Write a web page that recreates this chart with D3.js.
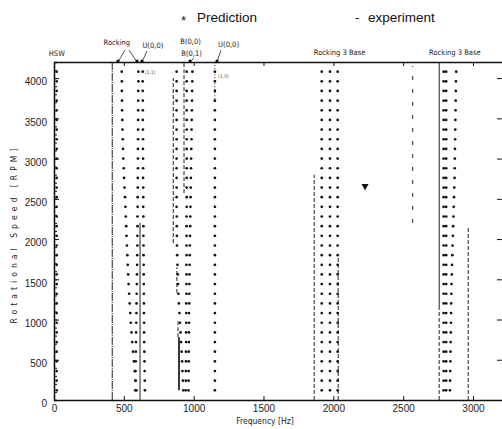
<!DOCTYPE html>
<html>
<head>
<meta charset="utf-8">
<script src="https://cdn.jsdelivr.net/npm/d3@7"></script>
<style>
    body { margin: 0; background: #fff; }
    svg { display: block; font-family: 'Liberation Sans Narrow', 'DejaVu Sans Condensed', 'Liberation Sans', sans-serif; }
</style>
</head>
<body>
<div id="chart"></div>
<script>
// rotor speeds where the prediction was evaluated (rpm)
const RPM = [120, 240, 360, 480, 600, 720, 840, 960, 1080, 1200, 1320, 1440, 1560, 1680, 1800, 1920, 2040,
    2160, 2280, 2400, 2520, 2640, 2760, 2880, 3000, 3120, 3240, 3360, 3480, 3600, 3720, 3840, 3960, 4080];

// predicted natural frequencies (Hz), one value per RPM entry
const PRED_HSW = [19, 19, 19, 19, 19, 19, 19, 19, 19, 19, 19, 19, 19, 19, 19, 19, 19,
    19, 19, 19, 19, 19, 19, 19, 19, 19, 19, 19, 19, 19, 19, 19, 19, 19];
const PRED_ROCKING = [590, 584, 578, 572, 566, 560, 555, 550, 546, 542, 538, 534, 531, 528, 525, 522, 519,
    517, 514, 511, 508, 505, 502, 499, 496, 494, 492, 490, 489, 488, 487, 486, 486, 485];
const PRED_U00_B = [582, 583, 584, 585, 586, 587, 588, 589, 590, 591, 592, 593, 594, 595, 596, 597, 597,
    598, 598, 599, 599, 600, 600, 601, 601, 601, 602, 602, 602, 603, 603, 603, 604, 604];
const PRED_U00_F = [651, 650, 649, 648, 647, 646, 645, 645, 644, 644, 643, 643, 642, 642, 641, 641, 640,
    640, 640, 639, 639, 639, 638, 638, 638, 637, 637, 637, 636, 636, 636, 635, 635, 635];
const PRED_B_A = [926, 923, 920, 917, 914, 910, 906, 902, 898, 894, 891, 888, 886, 884, 882, 881, 880,
    879, 879, 878, 878, 878, 878, 878, 878, 878, 878, 878, 878, 878, 878, 878, 878, 878];
const PRED_B_B = [943, 944, 944, 945, 945, 946, 946, 947, 947, 947, 948, 948, 948, 948, 949, 949, 949,
    949, 949, 950, 950, 950, 950, 950, 950, 950, 950, 950, 950, 950, 950, 950, 950, 950];
const PRED_B_C = [963, 964, 964, 965, 965, 966, 966, 967, 967, 968, 968, 969, 970, 971, 972, 973, 974,
    975, 976, 977, 978, 979, 980, 981, 982, 983, 984, 985, 986, 987, 988, 989, 990, 991];
const PRED_U00_R = [1152, 1152, 1152, 1152, 1152, 1152, 1152, 1152, 1152, 1152, 1152, 1152, 1152, 1152, 1152, 1152, 1152,
    1152, 1152, 1152, 1152, 1152, 1152, 1152, 1152, 1152, 1152, 1152, 1152, 1152, 1152, 1152, 1152, 1152];
const PRED_R3_A = [1917, 1917, 1917, 1917, 1917, 1917, 1917, 1917, 1917, 1917, 1917, 1917, 1917, 1917, 1917, 1917, 1917,
    1917, 1917, 1917, 1917, 1917, 1917, 1917, 1917, 1917, 1917, 1917, 1917, 1917, 1917, 1917, 1917, 1917];
const PRED_R3_B = [1976, 1976, 1976, 1976, 1976, 1976, 1976, 1976, 1976, 1976, 1976, 1976, 1976, 1976, 1976, 1976, 1976,
    1976, 1976, 1976, 1976, 1976, 1976, 1976, 1976, 1976, 1976, 1976, 1976, 1976, 1976, 1976, 1976, 1976];
const PRED_R3_C = [2031, 2031, 2031, 2031, 2031, 2031, 2031, 2031, 2031, 2031, 2031, 2031, 2031, 2031, 2031, 2031, 2031,
    2031, 2031, 2031, 2031, 2031, 2031, 2031, 2031, 2031, 2031, 2031, 2031, 2031, 2031, 2031, 2031, 2031];
const PRED_R3B_A = [2790, 2790, 2790, 2790, 2790, 2790, 2790, 2790, 2790, 2790, 2790, 2790, 2790, 2790, 2790, 2790, 2790,
    2790, 2790, 2790, 2790, 2790, 2790, 2790, 2790, 2790, 2790, 2790, 2790, 2790, 2790, 2790, 2790, 2790];
const PRED_R3B_B = [2808, 2808, 2808, 2808, 2808, 2808, 2808, 2808, 2808, 2808, 2808, 2808, 2808, 2808, 2808, 2808, 2808,
    2808, 2808, 2808, 2808, 2808, 2808, 2808, 2808, 2808, 2808, 2808, 2808, 2808, 2808, 2808, 2808, 2808];
const PRED_R3B_C = [2835, 2836, 2837, 2838, 2839, 2840, 2841, 2842, 2843, 2844, 2845, 2846, 2848, 2850, 2852, 2854, 2856,
    2858, 2860, 2862, 2864, 2866, 2868, 2869, 2870, 2871, 2872, 2873, 2874, 2875, 2876, 2877, 2878, 2880];

const PREDICTIONS = [PRED_HSW, PRED_ROCKING, PRED_U00_B, PRED_U00_F, PRED_B_A, PRED_B_B, PRED_B_C,
    PRED_U00_R, PRED_R3_A, PRED_R3_B, PRED_R3_C, PRED_R3B_A, PRED_R3B_B, PRED_R3B_C];

// measured (waterfall) traces: frequency, rpm range, trace kind
const EXP_FREQ = [417, 616, 854, 880, 888, 895, 931, 1152, 1863, 2035, 2568, 2758, 2758, 2966];
const EXP_FROM = [0, 0, 1950, 1330, 780, 120, 2570, 3700, 0, 0, 2200, 1120, 0, 0];
const EXP_TO = [4200, 2200, 4000, 1650, 1000, 780, 4200, 4200, 2800, 1800, 4150, 4200, 1120, 2140];
const EXP_KIND = ['dashdot', 'solid', 'dash', 'dash', 'dash', 'heavy', 'dash', 'dot', 'dash', 'dash', 'sparse', 'solid', 'dash', 'dash'];

// single stray measured point
const EXP_POINT = { freq: 2227, rpm: 2658 };

const X_TICKS = [0, 500, 1000, 1500, 2000, 2500, 3000];
const Y_TICKS = [0, 500, 1000, 1500, 2000, 2500, 3000, 3500, 4000];

const MODE_LABELS = ['HSW', 'Rocking', 'U(0,0)', 'B(0,0)', 'B(0,1)', 'U(0,0)', 'Rocking 3 Base', 'Rocking 3 Base'];
const MODE_LABEL_FREQ = [20, 450, 708, 978, 985, 1250, 2045, 2870];

const WIDTH = 502;
const HEIGHT = 429;
const PLOT = { TOP: 62, BOTTOM: 400, LEFT: 54, RIGHT: 504 };

const DASHES = { solid: null, heavy: null, dash: '4,2', dashdot: '8,1,1,1', dot: '1,2', sparse: '4,9' };

const svg = d3.select('#chart')
    .append('svg')
    .attr('width', WIDTH)
    .attr('height', HEIGHT);

const xScale = d3.scaleLinear().domain([0, 3222]).range([PLOT.LEFT, PLOT.RIGHT]);
const yScale = d3.scaleLinear().domain([0, 4200]).range([PLOT.BOTTOM, PLOT.TOP]);
const fmt = d3.format('d');

// axes, ticks point inward like the original plot
const axisStyle = (g) => {
    g.selectAll('.domain').attr('stroke', '#111').attr('stroke-width', 1.3);
    g.selectAll('.tick line').attr('stroke', '#111');
    g.selectAll('.tick text').attr('fill', '#222').attr('font-size', 10);
};

svg.append('g')
    .attr('transform', `translate(0, ${PLOT.BOTTOM})`)
    .call(d3.axisBottom(xScale).tickValues(X_TICKS).tickFormat(fmt).tickSizeInner(-4).tickSizeOuter(0).tickPadding(5))
    .call(axisStyle);

svg.append('g')
    .attr('transform', `translate(0, ${PLOT.TOP})`)
    .call(d3.axisTop(xScale).tickValues(X_TICKS).tickSizeInner(-4).tickSizeOuter(0).tickFormat(''))
    .call(axisStyle);

svg.append('g')
    .attr('transform', `translate(${PLOT.LEFT}, 0)`)
    .call(d3.axisLeft(yScale).tickValues(d3.range(0, 4201, 100)).tickSize(-3).tickFormat(''))
    .call(axisStyle);

svg.append('g')
    .attr('transform', `translate(${PLOT.LEFT}, 0)`)
    .call(d3.axisLeft(yScale).tickValues(Y_TICKS).tickFormat(fmt).tickSizeInner(-5).tickSizeOuter(0).tickPadding(7))
    .call(axisStyle)
    .selectAll('.tick text')
    .attr('dy', '0.68em');

svg.append('g')
    .attr('transform', `translate(${PLOT.RIGHT - 1}, 0)`)
    .call(d3.axisRight(yScale).tickValues(Y_TICKS.slice(1)).tickSizeInner(-6).tickSizeOuter(0).tickFormat(''))
    .call(axisStyle);

// experiment traces
svg.append('g')
    .selectAll('line')
    .data(EXP_FREQ.map((f, i) => ({ f, from: EXP_FROM[i], to: EXP_TO[i], kind: EXP_KIND[i] })))
    .join('line')
    .attr('x1', (d) => xScale(d.f))
    .attr('x2', (d) => xScale(d.f))
    .attr('y1', (d) => yScale(d.from))
    .attr('y2', (d) => yScale(d.to))
    .attr('stroke', '#222')
    .attr('stroke-width', (d) => (d.kind === 'heavy' ? 1.8 : 1))
    .attr('stroke-dasharray', (d) => DASHES[d.kind]);

svg.append('path')
    .attr('d', d3.symbol(d3.symbolTriangle, 22)())
    .attr('transform', `translate(${xScale(EXP_POINT.freq)}, ${yScale(EXP_POINT.rpm)}) rotate(180)`)
    .attr('fill', '#111');

// predicted points
const points = PREDICTIONS.flatMap((series) => series.map((f, i) => ({ f, rpm: RPM[i] })));
svg.append('g')
    .selectAll('circle')
    .data(points)
    .join('circle')
    .attr('cx', (d) => xScale(d.f))
    .attr('cy', (d) => yScale(d.rpm))
    .attr('r', 1.35)
    .attr('fill', '#111');

// mode labels above the frame
const labelY = [56, 45, 48, 44, 56, 47, 55, 55];
svg.append('g')
    .selectAll('text')
    .data(MODE_LABELS)
    .join('text')
    .attr('x', (d, i) => xScale(MODE_LABEL_FREQ[i]))
    .attr('y', (d, i) => labelY[i])
    .attr('text-anchor', 'middle')
    .attr('font-size', 7.5)
    .attr('fill', '#222')
    .text((d) => d);

const arrows = [
    [125, 50, 118, 62], [129, 50, 137, 62],
    [147, 51, 142, 62], [194, 58, 190, 62], [221, 50, 217, 62],
];
svg.append('g')
    .selectAll('line')
    .data(arrows)
    .join('line')
    .attr('x1', (d) => d[0]).attr('y1', (d) => d[1])
    .attr('x2', (d) => d[2]).attr('y2', (d) => d[3])
    .attr('stroke', '#222')
    .attr('stroke-width', 0.8);

svg.append('g')
    .selectAll('circle')
    .data(arrows)
    .join('circle')
    .attr('cx', (d) => d[2]).attr('cy', (d) => d[3] - 1)
    .attr('r', 1.6)
    .attr('fill', '#111');

// tiny mode numbers next to the columns
svg.append('text').attr('x', xScale(650)).attr('y', yScale(4050)).attr('font-size', 5).attr('fill', '#555').text('(1,1)');
svg.append('text').attr('x', xScale(1175)).attr('y', yScale(4000)).attr('font-size', 5).attr('fill', '#555').text('(1,0)');

// axis titles
svg.append('text')
    .attr('x', 265)
    .attr('y', 424)
    .attr('text-anchor', 'middle')
    .attr('font-size', 8.5)
    .attr('fill', '#222')
    .text('Frequency [Hz]');

svg.append('text')
    .attr('transform', 'translate(17, 236) rotate(-90)')
    .attr('text-anchor', 'middle')
    .attr('font-size', 8.5)
    .attr('fill', '#222')
    .attr('textLength', 175)
    .attr('lengthAdjust', 'spacing')
    .text('Rotational Speed [RPM]');

// legend
const legend = svg.append('g')
    .attr('font-family', "'Liberation Sans', Arial, sans-serif")
    .attr('font-size', 13.5)
    .attr('fill', '#111');
legend.append('text').attr('x', 181).attr('y', 25).text('*');
legend.append('text').attr('x', 197).attr('y', 22).text('Prediction');
legend.append('text').attr('x', 355).attr('y', 22).text('-');
legend.append('text').attr('x', 368).attr('y', 22).text('experiment');
</script>
</body>
</html>
